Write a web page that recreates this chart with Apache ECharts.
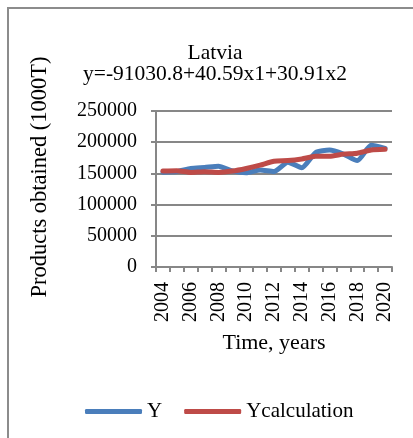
<!DOCTYPE html>
<html>
<head>
<meta charset="utf-8">
<script src="https://cdn.jsdelivr.net/npm/echarts@6/dist/echarts.min.js"></script>
<style>
  html, body { margin: 0; padding: 0; background: #fff; }
  #wrap { position: relative; width: 413px; height: 438px; overflow: hidden; }
  #frame { position: absolute; left: 7px; top: 7px; width: 420px; height: 450px;
           border-left: 2px solid #8c8c8c; border-top: 2px solid #8c8c8c; }
  #chart { position: absolute; left: 0; top: 0; width: 413px; height: 438px; }
</style>
</head>
<body>
<div id="wrap">
  <div id="frame"></div>
  <div id="chart"></div>
</div>
<script>
// 年份
var years = ['2004', '2005', '2006', '2007', '2008', '2009', '2010', '2011', '2012',
  '2013', '2014', '2015', '2016', '2017', '2018', '2019', '2020']
// 实际值 Y
var yActual = [152000, 153000, 158000, 159500, 161500, 154000, 151000, 155500, 153000,
  168000, 159000, 183500, 187500, 181000, 170500, 195000, 190000]
// 计算值 Ycalculation
var yCalc = [153700, 154200, 151600, 152600, 151600, 153700, 157900, 163200, 169500,
  170600, 173200, 177300, 177300, 180900, 182400, 187600, 188600]

var fontFamily = '"Liberation Serif", "DejaVu Serif", serif'
var gray = '#878787'

var chart = echarts.init(document.getElementById('chart'))
chart.setOption({
  animation: false,
  textStyle: { fontFamily: fontFamily, color: '#000' },
  color: ['#4a7ebb', '#be4b48'],
  title: {
    text: 'Latvia\ny=-91030.8+40.59x1+30.91x2',
    left: 210,
    top: 38,
    textAlign: 'center',
    textStyle: { fontFamily: fontFamily, fontSize: 21.5, fontWeight: 'normal', color: '#000', lineHeight: 21 }
  },
  legend: {
    left: 80,
    top: 396,
    icon: 'roundRect',
    itemWidth: 57,
    itemHeight: 5,
    itemGap: 22,
    textStyle: { fontFamily: fontFamily, fontSize: 21, color: '#000' },
    data: ['Y', 'Ycalculation']
  },
  grid: {
    left: 156,
    right: 21,
    top: 111,
    bottom: 171
  },
  xAxis: {
    type: 'category',
    data: years,
    name: 'Time, years',
    nameLocation: 'middle',
    nameGap: 65,
    nameTextStyle: { fontFamily: fontFamily, fontSize: 22, color: '#000' },
    axisLine: { lineStyle: { color: gray, width: 2 } },
    axisTick: { show: true, interval: 0, length: 5, lineStyle: { color: gray, width: 2 } },
    axisLabel: { interval: 1, rotate: 90, margin: 15, fontSize: 20, color: '#000', fontFamily: fontFamily }
  },
  yAxis: {
    type: 'value',
    min: 0,
    max: 250000,
    interval: 50000,
    name: 'Products obtained (1000T)',
    nameLocation: 'middle',
    nameGap: 104,
    nameTextStyle: { fontFamily: fontFamily, fontSize: 22.5, color: '#000', padding: [0, 0, 0, 24] },
    axisLine: { show: true, lineStyle: { color: gray, width: 2 } },
    axisTick: { show: true, length: 5, lineStyle: { color: gray, width: 2 } },
    axisLabel: {
      margin: 19,
      fontSize: 20,
      color: '#000',
      fontFamily: fontFamily,
      formatter: function (v) { return String(v) }
    },
    splitLine: { lineStyle: { color: gray, width: 2 } }
  },
  series: [
    {
      name: 'Y',
      type: 'line',
      data: yActual,
      symbol: 'none',
      smooth: 0.2,
      lineStyle: { width: 5, cap: 'round', join: 'round' }
    },
    {
      name: 'Ycalculation',
      type: 'line',
      data: yCalc,
      symbol: 'none',
      smooth: 0.2,
      lineStyle: { width: 5, cap: 'round', join: 'round' }
    }
  ]
})
</script>
</body>
</html>
